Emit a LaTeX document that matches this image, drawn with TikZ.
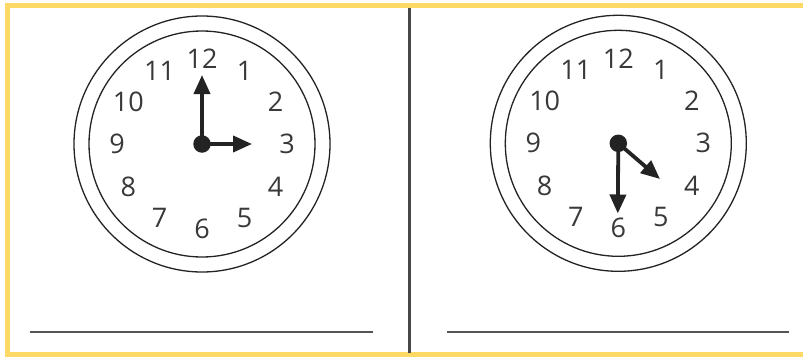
\documentclass[tikz,border=0pt]{standalone}
\usepackage{fontspec}
\newfontfamily\clockfont{Open Sans}
\usetikzlibrary{arrows.meta}
\definecolor{frameyellow}{RGB}{255,217,102}
\definecolor{ink}{RGB}{35,35,35}
\definecolor{rule}{RGB}{85,85,85}
\tikzset{
  frame/.style={draw=frameyellow, line width=4.7pt},
  rim/.style={draw=ink, line width=1.3pt},
  num/.style={inner sep=0pt, text=ink!90!white, font=\clockfont\fontsize{27}{27}\selectfont},
  hub/.style={circle, fill=ink, draw=none, minimum size=17.5pt, inner sep=0pt},
  hand/.style={draw=ink, line width=3.8pt, -{Triangle[length=19pt,width=16pt]}, shorten <=0pt},
  answer/.style={draw=rule, line width=2pt},
  divider/.style={draw=rule!85!black, line width=3pt}
}
\begin{document}
\begin{tikzpicture}[x=1pt,y=-1pt]
\useasboundingbox (0,0) rectangle (803,356);
\clip (0,0) rectangle (803,356);
\fill[white] (0,0) rectangle (803,356);
% frame (open on the right, cropped)
\draw[frame] (7.5,5.7) rectangle (830,354.6);
% divider
\coordinate (dtop) at (409.5,8);
\coordinate (dbot) at (409.5,352.5);
\draw[divider] (dtop) -- (dbot);
% answer lines
\coordinate (a1s) at (30,332.3);
\coordinate (a1e) at (372.7,332.3);
\coordinate (a2s) at (446.7,332.3);
\coordinate (a2e) at (788.7,332.3);
\draw[answer] (a1s) -- (a1e);
\draw[answer] (a2s) -- (a2e);
% clock 1
\def\cxa{202}\def\cya{144}
\draw[rim] (\cxa,\cya) circle[radius=128];
\draw[rim] (\cxa,\cya) circle[radius=113];
\foreach \i in {1,...,12}{
  \node[num] (c1n\i) at ({\cxa+85*sin(30*\i)},{\cya-85*cos(30*\i)}) {\i};
}
\node[hub] (c1) at (\cxa,\cya) {};
\coordinate (c1min) at (202,75);
\coordinate (c1hr) at (252,144);
\draw[hand] (c1.center) -- (c1min);
\draw[hand] (c1.center) -- (c1hr);
% clock 2
\def\cxb{618.3}\def\cyb{143.3}
\draw[rim] (\cxb,\cyb) circle[radius=128];
\draw[rim] (\cxb,\cyb) circle[radius=113];
\foreach \i in {1,...,12}{
  \node[num] (c2n\i) at ({\cxb+85*sin(30*\i)},{\cyb-85*cos(30*\i)}) {\i};
}
\node[hub] (c2) at (\cxb,\cyb) {};
\coordinate (c2min) at (617.8,213.5);
\coordinate (c2hr) at (660,179);
\draw[hand] (c2.center) -- (c2min);
\draw[hand] (c2.center) -- (c2hr);
\end{tikzpicture}
\end{document}
